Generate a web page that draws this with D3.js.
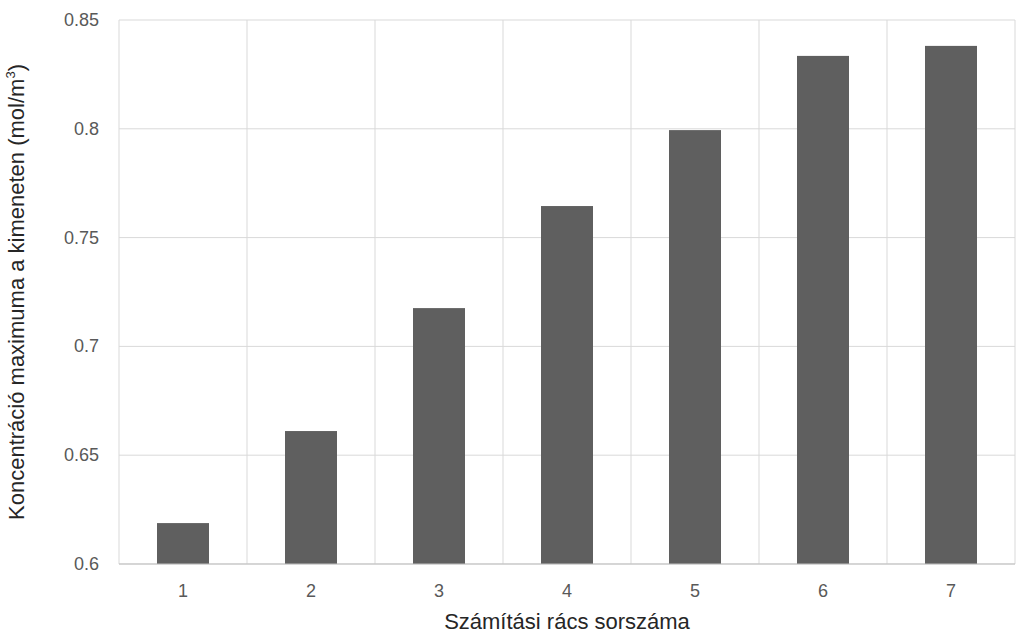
<!DOCTYPE html><html><head><meta charset="utf-8">
<script src="https://cdn.jsdelivr.net/npm/d3@7/dist/d3.min.js"></script>
<style>body{margin:0;background:#fff}svg{font-family:"Liberation Sans",Arial,sans-serif}</style></head><body>
<svg id="c" width="1023" height="633"></svg>
<script>
const categories=["1","2","3","4","5","6","7"];
const values=[0.6188,0.6611,0.7176,0.7645,0.7994,0.8335,0.8381];
const yTicks=[0.6,0.65,0.7,0.75,0.8,0.85];
const yTickLabels=["0.6","0.65","0.7","0.75","0.8","0.85"];
const svg=d3.select("#c");
const L=119,R=1015,T=20,B=564;
const x=d3.scaleBand().domain(categories).range([L,R]).paddingInner(0).paddingOuter(0);
const y=d3.scaleLinear().domain([0.6,0.85]).range([B,T]);
const g=svg.append("g");
yTicks.forEach(t=>g.append("line").attr("x1",L).attr("x2",R).attr("y1",y(t)).attr("y2",y(t)).attr("stroke","#d9d9d9"));
for(let i=0;i<=categories.length;i++){const xx=L+i*x.bandwidth();g.append("line").attr("x1",xx).attr("x2",xx).attr("y1",T).attr("y2",B).attr("stroke","#d9d9d9");}
const bw=52;
svg.selectAll("rect.b").data(values).join("rect").attr("x",(d,i)=>x(categories[i])+x.bandwidth()/2-bw/2).attr("width",bw).attr("y",d=>y(d)).attr("height",d=>B-y(d)).attr("fill","#5f5f5f");
svg.append("line").attr("x1",L).attr("x2",R).attr("y1",B).attr("y2",B).attr("stroke","#bfbfbf");
yTicks.forEach((t,i)=>svg.append("text").attr("x",L-20).attr("y",y(t)+6).attr("text-anchor","end").attr("font-size",18).attr("fill","#595959").text(yTickLabels[i]));
categories.forEach(c=>svg.append("text").attr("x",x(c)+x.bandwidth()/2).attr("y",597).attr("text-anchor","middle").attr("font-size",18).attr("fill","#595959").text(c));
svg.append("text").attr("x",567).attr("y",629).attr("text-anchor","middle").attr("font-size",22).attr("fill","#262626").text("Számítási rács sorszáma");
const yt=svg.append("text").attr("transform","translate(24,292) rotate(-90)").attr("text-anchor","middle").attr("font-size",22).attr("fill","#262626");
yt.append("tspan").text("Koncentráció maximuma a kimeneten (mol/m");
yt.append("tspan").attr("font-size",13).attr("dy",-9).text("3");
yt.append("tspan").attr("dy",9).text(")");
</script></body></html>
